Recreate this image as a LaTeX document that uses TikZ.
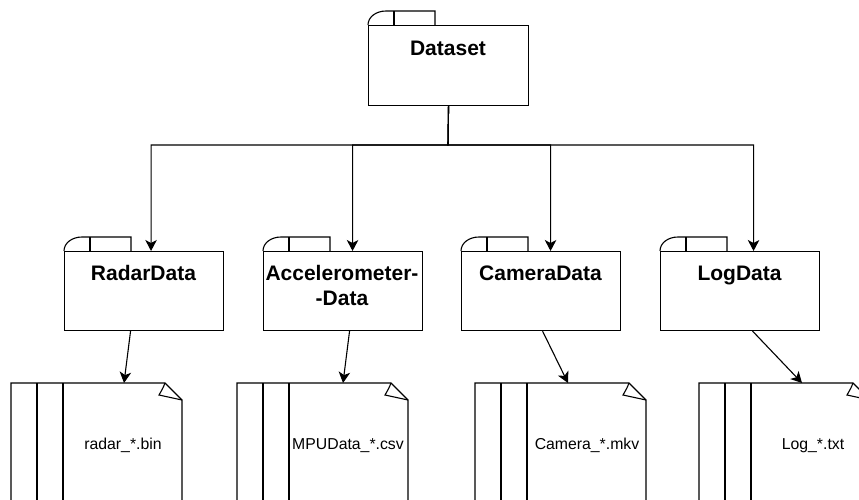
\documentclass[tikz,border=0pt]{standalone}
\usepackage{fontspec}
\setmainfont{Liberation Sans}
\usetikzlibrary{arrows.meta,calc}

\tikzset{
  line/.style={line width=1.1pt, line cap=butt, line join=miter},
  arr/.style={line, -{Stealth[length=11pt, width=11.5pt, inset=3pt]}},
  pkgbox/.style={draw, line, rectangle, anchor=north west, inner sep=0pt,
                 minimum width=159pt, minimum height=79pt},
  pkglabel/.style={font=\fontsize{21}{25}\selectfont\bfseries, align=center,
                   inner sep=0pt, anchor=base},
  filebody/.style={rectangle, anchor=north west, inner sep=0pt,
                   minimum width=171pt, minimum height=130pt},
  filelabel/.style={font=\fontsize{15.8}{19}\selectfont, inner sep=0pt, anchor=base},
  % folder tab on the upper left of a package box
  pics/tab/.style={code={
    \draw[line] (0,0) .. controls (0,-8) and (8,-14) .. (18,-14) -- (67,-14) -- (67,0);
    \draw[line] (26,-14) -- (26,0);
  }},
  % document outline with two spine lines and a folded corner
  pics/doc/.style={code={
    \draw[line] (0,130) -- (0,0) -- (154,0) -- (171,17) -- (171,130);
    \draw[line] (26,0) -- (26,130);
    \draw[line] (52,0) -- (52,130);
    \draw[line] (154,0) .. controls (152,5) .. (148,12) -- (171,17);
  }}
}

\begin{document}
\begin{tikzpicture}[x=1pt, y=-1pt]
  \fill[white] (0,0) rectangle (859,499);
  \clip (0,0) rectangle (859,499);
  \useasboundingbox (0,0) rectangle (859,499);

  % root package
  \node[pkgbox, minimum width=160pt, minimum height=80pt] (dataset) at (368,25) {};
  \pic at (dataset.north west) {tab};
  \node[pkglabel] (datasetlbl) at (448,55.5) {Dataset};

  % sub packages
  \node[pkgbox] (radar) at (64,251) {};
  \pic at (radar.north west) {tab};
  \node[pkglabel] (radarlbl) at (143.5,280.5) {RadarData};

  \node[pkgbox] (accel) at (263,251) {};
  \pic at (accel.north west) {tab};
  \node[pkglabel] (accellbl) at (342,305.5) {Accelerometer-\\-Data};

  \node[pkgbox] (camera) at (461,251) {};
  \pic at (camera.north west) {tab};
  \node[pkglabel] (cameralbl) at (540.5,280.5) {CameraData};

  \node[pkgbox] (log) at (660,251) {};
  \pic at (log.north west) {tab};
  \node[pkglabel] (loglbl) at (739.5,280.5) {LogData};

  % files
  \node[filebody] (radarfile) at (11,383) {};
  \pic at (radarfile.north west) {doc};
  \node[filelabel] (radartxt) at (123,449.5) {radar\_*.bin};

  \node[filebody] (accelfile) at (237,383) {};
  \pic at (accelfile.north west) {doc};
  \node[filelabel] (acceltxt) at (348,449.5) {MPUData\_*.csv};

  \node[filebody] (camerafile) at (475,383) {};
  \pic at (camerafile.north west) {doc};
  \node[filelabel] (cameratxt) at (587,449.5) {Camera\_*.mkv};

  \node[filebody] (logfile) at (699,383) {};
  \pic at (logfile.north west) {doc};
  \node[filelabel] (logtxt) at (813,449.5) {Log\_*.txt};

  % tree edges from the root
  \coordinate (bus) at (448,145);
  \draw[arr] (dataset.south) -- (bus) -| ([xshift=7pt]radar.north);
  \draw[arr] (dataset.south) -- (bus) -| ([xshift=9.5pt]accel.north);
  \draw[arr] (dataset.south) -- (bus) -| ([xshift=9.5pt]camera.north);
  \draw[arr] (dataset.south) -- (bus) -| ([xshift=13.5pt]log.north);

  % package to file edges
  \draw[arr] ([xshift=-13.5pt]radar.south) -- ([xshift=113pt]radarfile.north west);
  \draw[arr] ([xshift=6.5pt]accel.south) -- ([xshift=106pt]accelfile.north west);
  \draw[arr] ([xshift=1.5pt]camera.south) -- ([xshift=93pt]camerafile.north west);
  \draw[arr] ([xshift=12.5pt]log.south) -- ([xshift=103pt]logfile.north west);
\end{tikzpicture}
\end{document}
